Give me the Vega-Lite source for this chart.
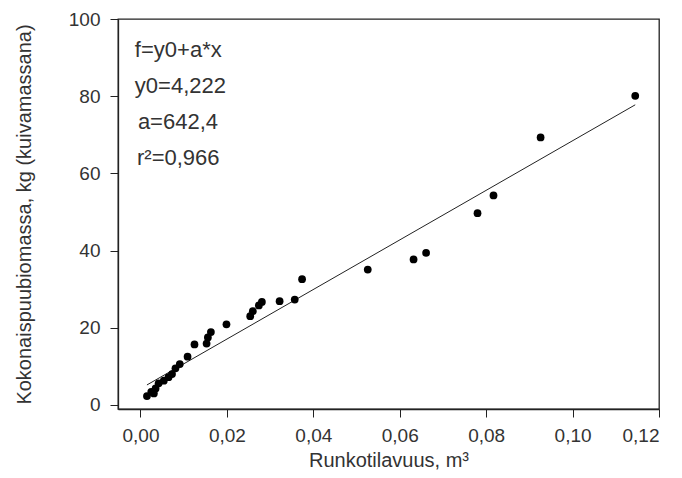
{
  "$schema": "https://vega.github.io/schema/vega-lite/v6.json",
  "width": 541,
  "height": 390,
  "autosize": {"type": "none"},
  "padding": {"left": 118, "top": 19, "right": 23, "bottom": 69},
  "background": "white",
  "config": {
    "view": {"stroke": "#222", "strokeWidth": 1.3},
    "font": "Liberation Sans",
    "axis": {"labelFont": "Liberation Sans", "titleFont": "Liberation Sans", "labelColor": "#333", "titleColor": "#333", "labelFontSize": 19, "titleFontSize": 20, "titleFontWeight": "normal", "domainColor": "#222", "tickColor": "#222", "tickSize": 8, "grid": false, "domainWidth": 1.3}
  },
  "datasets": {
    "pts": [
      {"v": 0.1145, "b": 80.1},
      {"v": 0.0926, "b": 69.3},
      {"v": 0.0817, "b": 54.3},
      {"v": 0.0780, "b": 49.7},
      {"v": 0.0661, "b": 39.4},
      {"v": 0.0632, "b": 37.7},
      {"v": 0.0526, "b": 35.1},
      {"v": 0.0374, "b": 32.6},
      {"v": 0.0357, "b": 27.3},
      {"v": 0.0322, "b": 26.9},
      {"v": 0.0281, "b": 26.7},
      {"v": 0.0274, "b": 25.8},
      {"v": 0.0260, "b": 24.3},
      {"v": 0.0254, "b": 23.0},
      {"v": 0.0199, "b": 20.9},
      {"v": 0.0163, "b": 18.9},
      {"v": 0.0156, "b": 17.5},
      {"v": 0.0153, "b": 15.9},
      {"v": 0.0125, "b": 15.7},
      {"v": 0.0109, "b": 12.5},
      {"v": 0.0091, "b": 10.6},
      {"v": 0.0081, "b": 9.5},
      {"v": 0.0073, "b": 8.0},
      {"v": 0.0065, "b": 7.2},
      {"v": 0.0054, "b": 6.3},
      {"v": 0.0042, "b": 5.6},
      {"v": 0.0035, "b": 4.3},
      {"v": 0.0031, "b": 3.0},
      {"v": 0.0025, "b": 3.4},
      {"v": 0.0015, "b": 2.3}
    ],
    "fit": [
      {"v": 0.0015, "b": 5.19},
      {"v": 0.1145, "b": 77.77}
    ],
    "notes": [
      {"v": -0.0013, "b": 92.0, "t": "f=y0+a*x"},
      {"v": -0.0013, "b": 82.6, "t": "y0=4,222"},
      {"v": -0.0006, "b": 73.3, "t": "a=642,4"},
      {"v": -0.0008, "b": 64.0, "t": "r²=0,966"}
    ]
  },
  "encoding": {
    "x": {"field": "v", "type": "quantitative",
      "scale": {"domain": [-0.0052, 0.12], "nice": false, "zero": false},
      "axis": {"values": [0, 0.02, 0.04, 0.06, 0.08, 0.1, 0.12], "labelExpr": "replace(format(datum.value, '.2f'), '.', ',')", "title": "Runkotilavuus, m³", "titlePadding": 5, "labelPadding": 9}},
    "y": {"field": "b", "type": "quantitative",
      "scale": {"domain": [-1.04, 100], "nice": false, "zero": false},
      "axis": {"values": [0, 20, 40, 60, 80, 100], "title": "Kokonaispuubiomassa, kg (kuivamassana)", "titlePadding": 34, "labelPadding": 10}}
  },
  "layer": [
    {"data": {"name": "fit"}, "mark": {"type": "line", "color": "#222", "strokeWidth": 1}},
    {"data": {"name": "pts"}, "mark": {"type": "circle", "color": "#000", "opacity": 1, "size": 60}},
    {"data": {"name": "notes"}, "mark": {"type": "text", "align": "left", "baseline": "middle", "fontSize": 22, "color": "#333", "font": "Liberation Sans"},
      "encoding": {"text": {"field": "t"}}}
  ]
}
